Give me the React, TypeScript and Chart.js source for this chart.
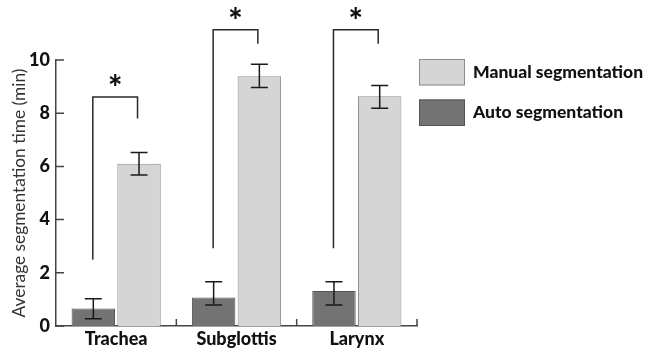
import React, { useEffect, useRef } from "react";
import { Chart, registerables } from "chart.js";

Chart.register(...registerables);

const categories = ["Trachea", "Subglottis", "Larynx"];
const autoMeans = [0.66, 1.07, 1.32];
const autoLow = [0.27, 0.79, 0.79];
const autoHigh = [1.02, 1.66, 1.66];
const manualMeans = [6.1, 9.39, 8.64];
const manualLow = [5.68, 8.97, 8.19];
const manualHigh = [6.52, 9.84, 9.04];
const bracketAutoEnd = [2.49, 2.92, 2.92];
const bracketTop = [8.61, 11.14, 11.14];
const bracketManualEnd = [7.8, 10.61, 10.61];
const seriesNames = ["Auto segmentation", "Manual segmentation"];
const yTicks = [0, 2, 4, 6, 8, 10];

const AUTO_FILL = "#737373";
const AUTO_BORDER = "#555555";
const MAN_FILL = "#d5d5d5";
const MAN_BORDER = "#8c8c8c";
const FONT = "Lato";

const overlay = {
  id: "overlay",
  afterDatasetsDraw(chart: any) {
    const ctx = chart.ctx;
    const y = chart.scales.y;
    const area = chart.chartArea;
    const metaA = chart.getDatasetMeta(0);
    const metaM = chart.getDatasetMeta(1);
    ctx.save();
    // error bars
    ctx.strokeStyle = "#1a1a1a";
    ctx.lineWidth = 1.5;
    const drawErr = (cx: number, lo: number, hi: number) => {
      const yl = y.getPixelForValue(lo);
      const yh = y.getPixelForValue(hi);
      const w = 8.5;
      ctx.beginPath();
      ctx.moveTo(cx, yl);
      ctx.lineTo(cx, yh);
      ctx.moveTo(cx - w, yl);
      ctx.lineTo(cx + w, yl);
      ctx.moveTo(cx - w, yh);
      ctx.lineTo(cx + w, yh);
      ctx.stroke();
    };
    categories.forEach((_, i) => {
      drawErr(metaA.data[i].x, autoLow[i], autoHigh[i]);
      drawErr(metaM.data[i].x, manualLow[i], manualHigh[i]);
    });
    // brackets
    ctx.strokeStyle = "#2a2a2a";
    ctx.lineWidth = 1.5;
    categories.forEach((_, i) => {
      const xl = metaA.data[i].x - 0.5;
      const xr = metaM.data[i].x - 1.5;
      const yt = y.getPixelForValue(bracketTop[i]);
      ctx.beginPath();
      ctx.moveTo(xl, y.getPixelForValue(bracketAutoEnd[i]));
      ctx.lineTo(xl, yt);
      ctx.lineTo(xr, yt);
      ctx.lineTo(xr, y.getPixelForValue(bracketManualEnd[i]));
      ctx.stroke();
      ctx.fillStyle = "#111";
      ctx.font = `900 34px ${FONT}`;
      ctx.textAlign = "center";
      ctx.textBaseline = "middle";
      ctx.fillText("*", (xl + xr) / 2, yt - 8);
    });
    // axis ticks (inward)
    ctx.strokeStyle = "#444";
    ctx.lineWidth = 1.5;
    ctx.beginPath();
    yTicks.forEach((v) => {
      const py = y.getPixelForValue(v);
      ctx.moveTo(area.left, py);
      ctx.lineTo(area.left + 8, py);
    });
    const step = (area.right - area.left) / categories.length;
    for (let k = 1; k <= categories.length; k++) {
      const px = area.left + step * k;
      ctx.moveTo(px, area.bottom);
      ctx.lineTo(px, area.bottom - 7);
    }
    ctx.stroke();
    // legend
    const lx = 419;
    const items = [
      { name: seriesNames[1], fill: MAN_FILL, border: MAN_BORDER, top: 59 },
      { name: seriesNames[0], fill: AUTO_FILL, border: AUTO_BORDER, top: 99.5 },
    ];
    items.forEach((it) => {
      ctx.fillStyle = it.fill;
      ctx.fillRect(lx, it.top, 46, 26.5);
      ctx.strokeStyle = it.border;
      ctx.lineWidth = 1;
      ctx.strokeRect(lx + 0.5, it.top + 0.5, 45, 25.5);
      ctx.fillStyle = "#111";
      ctx.font = `900 17.5px ${FONT}`;
      ctx.textAlign = "left";
      ctx.textBaseline = "middle";
      ctx.fillText(it.name, 473, it.top + 13);
    });
    ctx.restore();
  },
};

export default function App() {
  const ref = useRef<HTMLCanvasElement>(null);
  useEffect(() => {
    if (!ref.current) return;
    const chart = new Chart(ref.current, {
      type: "bar",
      data: {
        labels: categories,
        datasets: [
          {
            label: seriesNames[0],
            data: autoMeans,
            backgroundColor: AUTO_FILL,
            borderColor: AUTO_BORDER,
            borderWidth: 1,
          },
          {
            label: seriesNames[1],
            data: manualMeans,
            backgroundColor: MAN_FILL,
            borderColor: MAN_BORDER,
            borderWidth: 1,
          },
        ],
      },
      options: {
        responsive: false,
        animation: false,
        datasets: { bar: { categoryPercentage: 0.76, barPercentage: 0.95 } },
        layout: { padding: { left: 0, right: 230, top: 60, bottom: 0 } },
        plugins: { legend: { display: false }, tooltip: { enabled: false } },
        scales: {
          x: {
            grid: { display: false, drawTicks: false },
            border: { display: true, color: "#444", width: 1.5 },
            ticks: {
              color: "#111",
              font: { family: FONT, size: 18, weight: "900" },
              padding: 2,
            },
            afterFit(scale: any) {
              scale.height = 26;
            },
          },
          y: {
            min: 0,
            max: 10,
            grid: { display: false, drawTicks: false },
            border: { display: true, color: "#444", width: 1.5 },
            ticks: {
              stepSize: 2,
              color: "#111",
              font: { family: FONT, size: 18, weight: "900" },
              padding: 6,
            },
            title: {
              display: true,
              text: "Average segmentation time (min)",
              color: "#333",
              font: { family: FONT, size: 17.3 },
              padding: { top: 9, bottom: 0 },
            },
            afterFit(scale: any) {
              scale.width = 56;
            },
          },
        },
      },
      plugins: [overlay],
    });
    return () => chart.destroy();
  }, []);
  return (
    <div style={{ position: "absolute", left: 0, top: 0, width: 647, height: 352, background: "#fff" }}>
      <canvas ref={ref} width={647} height={352} />
    </div>
  );
}
